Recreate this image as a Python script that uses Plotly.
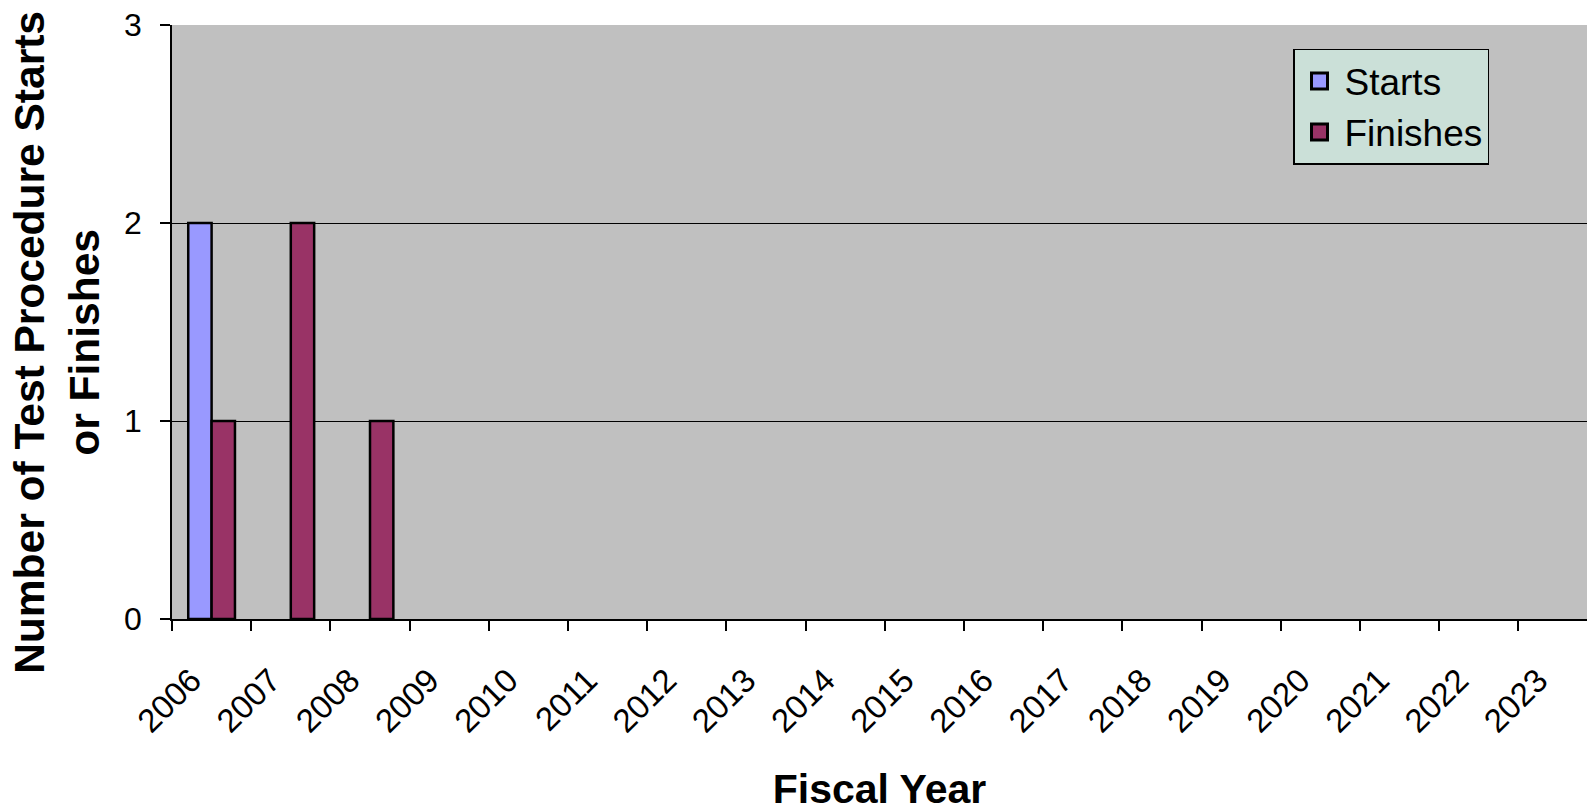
import plotly.graph_objects as go

years = [str(y) for y in range(2006, 2024)]
starts = [2, 0, 0] + [0] * 15
finishes = [1, 2, 1] + [0] * 15

series_names = ["Starts", "Finishes"]
series_colors = ["#9999FF", "#993366"]
series_values = [starts, finishes]

fig = go.Figure()
for name, color, vals in zip(series_names, series_colors, series_values):
    fig.add_trace(go.Bar(x=years, y=[v if v else None for v in vals], name=name,
                         showlegend=False,
                         marker=dict(color=color, line=dict(color="black", width=2.5))))
# legend swatches (square markers like the original)
for name, color in zip(series_names, series_colors):
    fig.add_trace(go.Scatter(x=[None], y=[None], mode="markers", name=name,
                             legendgroup=name, showlegend=True,
                             marker=dict(symbol="square", size=24, color=color,
                                         line=dict(color="black", width=3))))

W, H = 1587, 812
plot_left, plot_top, plot_bottom = 172, 25, 623
L, T, B = plot_left, plot_top, H - plot_bottom
plot_w = W - L
plot_h = plot_bottom - plot_top
cat_w = 79.2

fig.update_layout(
    width=W, height=H,
    margin=dict(l=L, r=0, t=T, b=B, pad=0),
    paper_bgcolor="white",
    plot_bgcolor="#C0C0C0",
    barmode="group",
    bargap=0.41,
    bargroupgap=0,
    font=dict(family="Liberation Sans, Arial", color="black"),
    showlegend=True,
    legend=dict(
        x=(1293 - plot_left) / plot_w, y=(plot_bottom - 49) / plot_h,
        xanchor="left", yanchor="top",
        bgcolor="#CBE0D8", bordercolor="black", borderwidth=1.5,
        font=dict(size=37, family="Liberation Sans, Arial"),
        traceorder="normal",
        tracegroupgap=18,
        itemwidth=40,
    ),
    xaxis=dict(
        type="category",
        range=[-0.5, -0.5 + plot_w / cat_w],
        tickson="boundaries",
        ticks="outside", ticklen=10, tickwidth=1.5, tickcolor="black",
        tickangle=-45,
        tickfont=dict(size=33),
        ticklabelstandoff=27,
        ticklabelshift=-20,
        showline=True, linecolor="black", linewidth=1.5,
        showgrid=False,
        title=dict(text="<b>Fiscal Year</b>", font=dict(size=41), standoff=44),
    ),
    yaxis=dict(
        range=[0, 3],
        tickvals=[0, 1, 2, 3],
        ticks="outside", ticklen=10, tickwidth=1.5, tickcolor="black",
        tickfont=dict(size=32),
        ticklabelstandoff=12,
        ticklabeloverflow="allow",
        showline=True, linecolor="black", linewidth=1.5,
        showgrid=True, gridcolor="black", gridwidth=1,
        zeroline=False,
    ),
    annotations=[dict(
        text="<b>Number of Test Procedure Starts<br>or Finishes</b>",
        textangle=-90, font=dict(size=42.5),
        xref="paper", yref="paper",
        x=(57 - plot_left) / plot_w, y=(plot_bottom - 345) / plot_h,
        xanchor="center", yanchor="middle", showarrow=False,
    )],
)

fig.write_html(
    "out.html",
    config={"displayModeBar": False},
    post_script="document.body.style.margin='0';"
                "document.body.style.overflow='hidden';"
                "document.documentElement.style.overflow='hidden';",
)
